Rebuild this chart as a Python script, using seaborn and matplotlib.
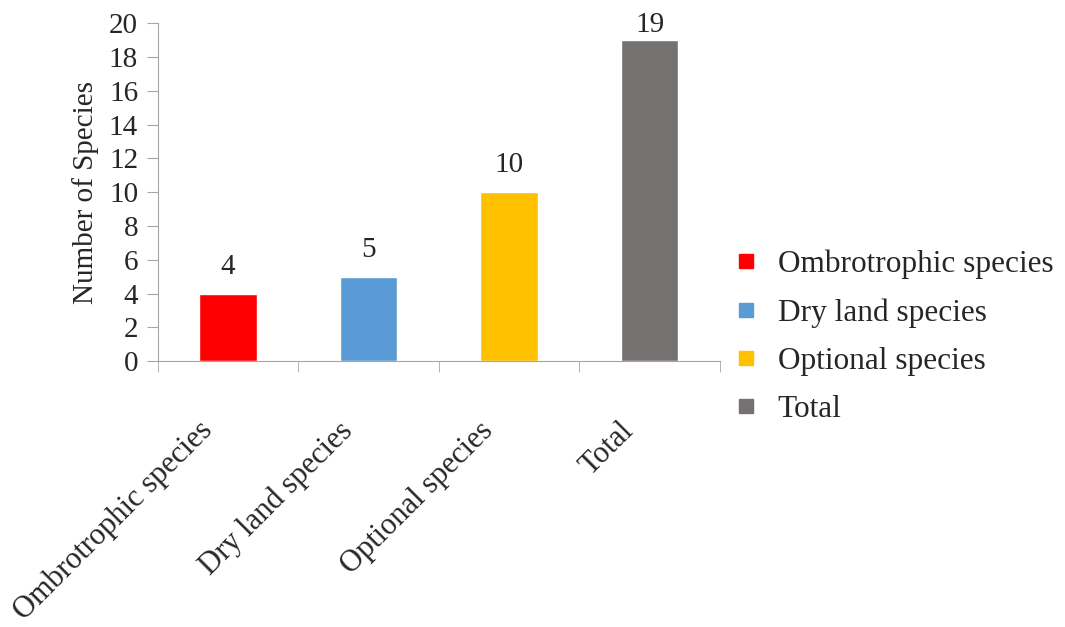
import seaborn as sns
import pandas as pd
import matplotlib.pyplot as plt
import matplotlib.transforms as mtransforms
import numpy as np

categories = ['Ombrotrophic species', 'Dry land species', 'Optional species', 'Total']
counts = [4, 5, 10, 19]
colors = ['#FF0000', '#5B9BD5', '#FFC000', '#767171']
yticks = [0, 2, 4, 6, 8, 10, 12, 14, 16, 18, 20]

df = pd.DataFrame({'category': categories, 'count': counts})

sns.set_style('white')
plt.rcParams['font.family'] = ['Liberation Serif', 'DejaVu Serif']

fig = plt.figure(figsize=(10.65, 6.27), dpi=100)
ax = fig.add_axes([0.148, 0.424, 0.528, 0.539])

sns.barplot(data=df, x='category', y='count', hue='category', palette=colors,
            width=0.41, saturation=1, legend=False, ax=ax)

# value labels (Excel keeps the top one inside the plot area)
for i, v in enumerate(counts):
    ax.text(i, min(v + 1.6, 19.9), str(v), ha='center', va='center', fontsize=21)

ax.set_xlim(-0.5, 3.5)
ax.set_ylim(0, 20)
ax.set_yticks(yticks)
ax.set_ylabel('Number of Species', fontsize=21, labelpad=7)
ax.set_xlabel('')

gray = '#A6A6A6'
sns.despine(ax=ax)
ax.spines['left'].set_color(gray)
ax.spines['bottom'].set_color(gray)
ax.tick_params(axis='y', which='major', left=True, length=8, color=gray, labelsize=21, pad=6)
ax.set_xticks(range(len(categories)))
ax.set_xticklabels(categories, rotation=45, ha='right', va='center',
                   rotation_mode='anchor', fontsize=22)
ax.tick_params(axis='x', which='major', length=0, pad=47)
shift = mtransforms.ScaledTranslation(-0.2, 0, fig.dpi_scale_trans)
for lab in ax.get_xticklabels():
    lab.set_transform(lab.get_transform() + shift)
ax.set_xticks(np.arange(-0.5, 4.0, 1.0), minor=True)
ax.tick_params(axis='x', which='minor', bottom=True, length=8, color=gray)

handles = [plt.Line2D([], [], marker='s', linestyle='', markersize=10.5,
                      markerfacecolor=c, markeredgecolor=c) for c in colors]
fig.legend(handles, categories, loc='center left', bbox_to_anchor=(0.662, 0.463),
           frameon=False, fontsize=22.5, labelspacing=0.62, handlelength=0.8,
           handletextpad=0.62)

fig.savefig('out.png', dpi=100)
